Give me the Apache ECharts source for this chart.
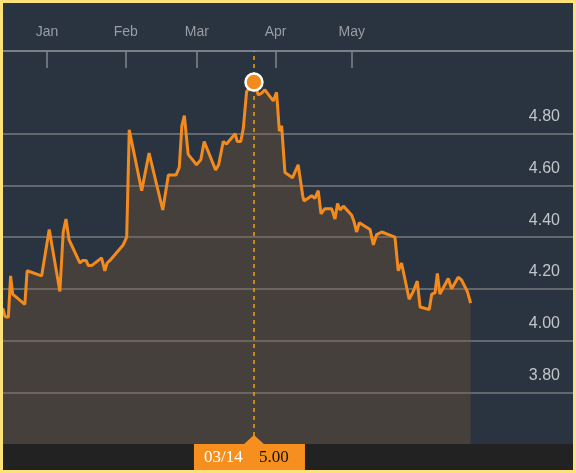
<!DOCTYPE html>
<html><head><meta charset="utf-8">
<script src="https://cdn.jsdelivr.net/npm/echarts@6/dist/echarts.min.js"></script>
<style>
html,body{margin:0;padding:0;background:#fde27a;}
#c{width:570px;height:467px;margin:3px;background:#2a3440;}
</style></head><body><div id="c"></div>
<script>
// days since Jan 1
const days = [-17.4,-16.5,-15.2,-14.3,-13.5,-8.7,-7.8,-2.1,0.9,5.1,6.4,7.5,8.7,13.0,14.1,15.4,16.3,17.6,21.5,22.8,23.7,24.8,30.0,31.4,32.4,37.3,40.2,45.6,47.8,50.8,52.1,53.1,54.1,55.6,58.9,60.6,61.9,66.4,67.6,69.4,70.7,74.1,74.9,76.3,77.3,78.6,81.5,83.2,84.5,85.8,89.1,90.4,91.5,92.4,93.7,96.7,98.9,100.7,101.2,104.2,105.5,106.8,107.9,109.4,112.1,113.4,114.4,115.4,116.7,120.0,120.9,121.9,123.0,127.2,128.5,129.8,131.8,137.0,138.3,139.6,142.6,144.2,145.8,146.9,150.5,151.5,152.8,153.7,154.7,158.0,159.3,161.9,163.2,165.5,166.8];
const prices = [4.125,4.093,4.09,4.25,4.18,4.14,4.27,4.25,4.43,4.19,4.42,4.47,4.39,4.30,4.31,4.31,4.29,4.29,4.32,4.27,4.30,4.31,4.37,4.40,4.815,4.58,4.725,4.505,4.64,4.64,4.67,4.83,4.87,4.72,4.68,4.70,4.77,4.66,4.68,4.77,4.76,4.80,4.77,4.77,4.82,4.963,5.00,4.95,4.957,4.97,4.927,4.96,4.81,4.83,4.65,4.63,4.68,4.56,4.54,4.56,4.55,4.58,4.49,4.51,4.51,4.47,4.53,4.505,4.52,4.485,4.46,4.42,4.456,4.43,4.37,4.41,4.42,4.40,4.27,4.30,4.16,4.19,4.23,4.13,4.12,4.18,4.185,4.26,4.18,4.24,4.20,4.245,4.235,4.19,4.145];
const monthDays = [0,31,59,90,120];
const monthLabels = ['Jan','Feb','Mar','Apr','May'];
const yTicks = [3.8,4.0,4.2,4.4,4.6,4.8];
const peakDay = 81.5, peakValue = 5.00, peakDateLabel = '03/14', peakValueLabel = '5.00';

const chart = echarts.init(document.getElementById('c'));
const data = days.map((d,i)=>[d,prices[i]]);
chart.setOption({
  backgroundColor:'#2a3440',
  animation:false,
  grid:{left:0,right:0,top:48,bottom:26},
  xAxis:{type:'value',position:'top',min:-17.3,max:207.1,
    axisLine:{show:true,lineStyle:{color:'#7a7f85',width:2}},
    axisTick:{show:true,inside:true,length:17,customValues:monthDays,lineStyle:{color:'#80868c',width:1.5}},
    axisLabel:{customValues:monthDays,margin:12,color:'#9a9da2',fontSize:14,fontFamily:'Liberation Sans, Arial',
      formatter:v=>monthLabels[monthDays.indexOf(Math.round(v))]||''},
    splitLine:{show:false}},
  yAxis:{type:'value',position:'right',min:3.6,max:5.12,interval:0.2,
    axisLine:{show:false},axisTick:{show:false},
    axisLabel:{inside:true,margin:13,verticalAlign:'bottom',padding:[0,0,9,0],color:'#c3c6c9',fontSize:16,fontFamily:'Liberation Sans, Arial',
      formatter:v=>yTicks.some(t=>Math.abs(t-v)<1e-6)?v.toFixed(2):''},
    splitLine:{show:true,lineStyle:{width:1.5,color:['rgba(0,0,0,0)','#767a7e','#767a7e','#767a7e','#767a7e','#767a7e','#767a7e','rgba(0,0,0,0)']}}},
  series:[{type:'line',data:data,showSymbol:false,
    lineStyle:{color:'#f28a1e',width:3},
    areaStyle:{color:'rgba(132,92,56,0.45)'},
    markLine:{symbol:'none',silent:true,label:{show:false},lineStyle:{color:'#f5a000',type:[4,4],width:1.5},
      data:[{xAxis:peakDay}]},
    markPoint:{symbol:'circle',symbolSize:17,label:{show:false},
      itemStyle:{color:'#f28a1e',borderColor:'#fff',borderWidth:2.5},
      data:[{coord:[peakDay,peakValue]}]}
  }]
});
const px = chart.convertToPixel({gridIndex:0},[peakDay,peakValue]);
const H = 467;
chart.setOption({graphic:[
  {type:'rect',left:0,top:H-26,shape:{width:570,height:26},style:{fill:'#222222'},z:50},
  {type:'rect',shape:{x:px[0]-60,y:H-26,width:111,height:26},style:{fill:'#f78f1e'},z:51},
  {type:'polygon',shape:{points:[[px[0]-11,H-25],[px[0],H-35],[px[0]+11,H-25]]},style:{fill:'#f78f1e'},z:51},
  {type:'text',x:px[0]-50,y:H-12,style:{text:peakDateLabel,fill:'#fff',font:'17px "Liberation Serif", serif',verticalAlign:'middle'},z:52},
  {type:'text',x:px[0]+5,y:H-12,style:{text:peakValueLabel,fill:'#111',font:'17px "Liberation Serif", serif',verticalAlign:'middle'},z:52}
]});
</script></body></html>
